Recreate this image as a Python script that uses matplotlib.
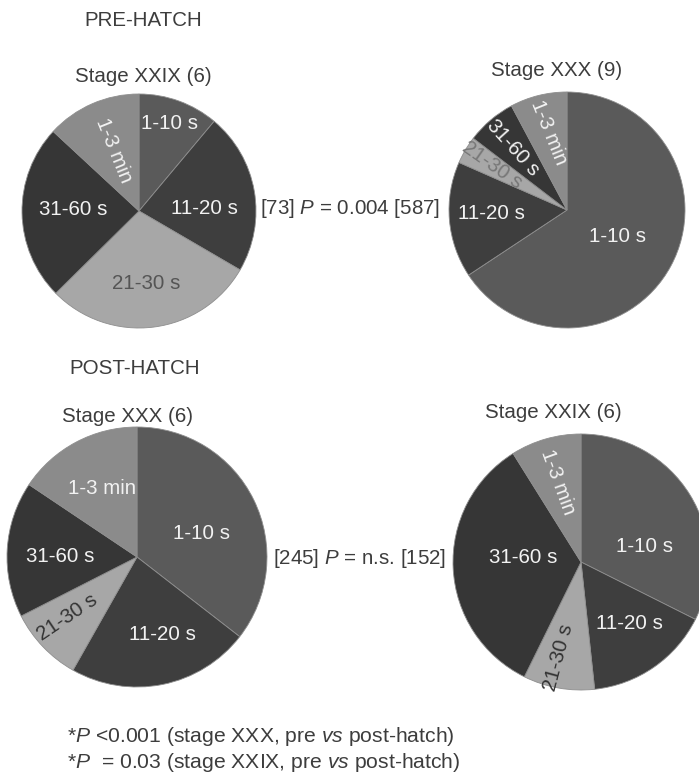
import matplotlib
matplotlib.use("Agg")
import matplotlib.pyplot as plt
import numpy as np

plt.rcParams["font.family"] = ["Liberation Sans", "DejaVu Sans"]
plt.rcParams["mathtext.fontset"] = "custom"
plt.rcParams["mathtext.rm"] = "Liberation Sans"
plt.rcParams["mathtext.it"] = "Liberation Sans:italic"

# Interval categories (clockwise from 12 o'clock)
categories = ["1-10 s", "11-20 s", "21-30 s", "31-60 s", "1-3 min"]

# Percentage of intervals in each category
pre_xxix = [11.1, 22.3, 29.2, 24.3, 13.1]
pre_xxx = [65.7, 15.9, 3.8, 6.8, 7.8]
post_xxx = [35.5, 22.7, 9.3, 16.9, 15.6]
post_xxix = [32.4, 15.9, 9.0, 33.8, 8.9]

titles = ["Stage XXIX (6)", "Stage XXX (9)", "Stage XXX (6)", "Stage XXIX (6)"]
comparisons = ["[73] $\\mathit{P}$ = 0.004 [587]", "[245] $\\mathit{P}$ = n.s. [152]"]
footnotes = ["*$\\mathit{P}$ <0.001 (stage XXX, pre $\\mathit{vs}$ post-hatch)",
             "*$\\mathit{P}$  = 0.03 (stage XXIX, pre $\\mathit{vs}$ post-hatch)"]

W, H = 699, 777
fig = plt.figure(figsize=(W / 100, H / 100), dpi=100)
ax = fig.add_axes([0, 0, 1, 1])
ax.set_xlim(0, W)
ax.set_ylim(0, H)
ax.set_aspect("equal")
ax.axis("off")

TXT = "#3d3d3d"
FS = 14.8
wedge_colors = ["#5a5a5a", "#3e3e3e", "#a7a7a7", "#363636", "#8b8b8b"]


def py(y):
    # screen-style y (from top) to axes y
    return H - y


# pie layout: centre (x, y-from-top), radius
pies = [
    dict(values=pre_xxix, center=(139, 211), r=117,
         lab=[(19, 0.79, 0), (88, 0.56, 0), (174, 0.62, 0), (271, 0.56, 0), (337, 0.56, -68)],
         labcol=["#f2f2f2", "#f2f2f2", "#555555", "#f2f2f2", "#f2f2f2"]),
    dict(values=pre_xxx, center=(567, 210), r=118,
         lab=[(118, 0.48, 0), (267, 0.64, 0), (301, 0.74, -35), (319, 0.70, -48), (347, 0.67, -68)],
         labcol=["#f2f2f2", "#f2f2f2", "#777777", "#f2f2f2", "#f2f2f2"]),
    dict(values=post_xxx, center=(137, 557), r=130,
         lab=[(70, 0.53, 0), (162, 0.63, 0), (229, 0.71, 34), (270, 0.59, 0), (333, 0.59, 0)],
         labcol=["#f2f2f2", "#f2f2f2", "#333333", "#f2f2f2", "#f2f2f2"]),
    dict(values=post_xxix, center=(581, 562), r=128,
         lab=[(76, 0.51, 0), (142, 0.61, 0), (193, 0.77, 75), (274, 0.45, 0), (344, 0.65, -70)],
         labcol=["#f2f2f2", "#f2f2f2", "#333333", "#f2f2f2", "#f2f2f2"]),
]

for p in pies:
    cx, cy = p["center"][0], py(p["center"][1])
    ax.pie(p["values"], colors=wedge_colors, startangle=90, counterclock=False,
           center=(cx, cy), radius=p["r"], frame=True,
           wedgeprops=dict(edgecolor="#8e8e8e", linewidth=0.6))
    for name, (th, rf, rot), col in zip(categories, p["lab"], p["labcol"]):
        t = np.deg2rad(th)
        x = cx + rf * p["r"] * np.sin(t)
        y = cy + rf * p["r"] * np.cos(t)
        ax.text(x, y, name, ha="center", va="center", rotation=rot,
                rotation_mode="anchor", color=col, fontsize=FS)

# restore the full-figure frame after pie() calls
ax.set_xlim(0, W)
ax.set_ylim(0, H)
ax.axis("off")

ax.text(143, py(20), "PRE-HATCH", ha="center", va="center", color=TXT, fontsize=FS)
ax.text(135, py(368), "POST-HATCH", ha="center", va="center", color=TXT, fontsize=FS)

title_pos = [(143, 76), (557, 71), (128, 416), (553, 412)]
for txt, (x, y) in zip(titles, title_pos):
    ax.text(x, py(y), txt, ha="center", va="center", color=TXT, fontsize=FS)

ax.text(260, py(209), comparisons[0], ha="left", va="center", color=TXT, fontsize=FS)
ax.text(273, py(558), comparisons[1], ha="left", va="center", color=TXT, fontsize=FS)

ax.text(67, py(736), footnotes[0], ha="left", va="center", color=TXT, fontsize=15.2)
ax.text(67, py(763), footnotes[1], ha="left", va="center", color=TXT, fontsize=15.2)

fig.savefig("out.png", dpi=100, facecolor="white")
